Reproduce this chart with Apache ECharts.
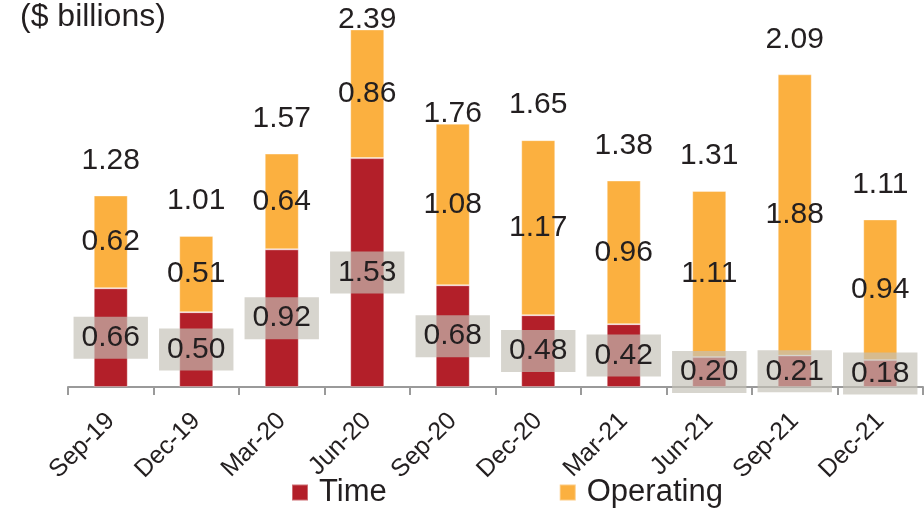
<!DOCTYPE html>
<html>
<head>
<meta charset="utf-8">
<script src="https://cdn.jsdelivr.net/npm/echarts@6/dist/echarts.min.js"></script>
<style>
  html, body { margin: 0; padding: 0; background: #fff; }
  #chart { width: 924px; height: 510px; }
</style>
</head>
<body>
<div id="chart"></div>
<script>
// Quarterly deposits, $ billions
const quarters = ['Sep-19', 'Dec-19', 'Mar-20', 'Jun-20', 'Sep-20', 'Dec-20', 'Mar-21', 'Jun-21', 'Sep-21', 'Dec-21'];
const timeValues = [0.66, 0.50, 0.92, 1.53, 0.68, 0.48, 0.42, 0.20, 0.21, 0.18];
const operatingValues = [0.62, 0.51, 0.64, 0.86, 1.08, 1.17, 0.96, 1.11, 1.88, 0.94];
const totals = [1.28, 1.01, 1.57, 2.39, 1.76, 1.65, 1.38, 1.31, 2.09, 1.11];
// label gap above each stack (tall neighbours get a tighter gap)
const totalGaps = [19, 19, 19, -6, -6, 19, 19, 19, 19, 19];

const FONT = 'Liberation Sans, Arial, sans-serif';
const INK = '#231F20';
const RED = '#B31F29';
const ORANGE = '#FBB040';

const chart = echarts.init(document.getElementById('chart'), null, { renderer: 'canvas' });

chart.setOption({
  animation: false,
  backgroundColor: '#ffffff',
  textStyle: { fontFamily: FONT, color: INK },
  title: {
    text: '($ billions)',
    left: 20,
    top: 1,
    padding: 0,
    textStyle: { fontFamily: FONT, fontSize: 32, fontWeight: 'normal', color: INK }
  },
  legend: {
    data: ['Time', 'Operating'],
    left: 291,
    top: 477,
    padding: 0,
    itemWidth: 16,
    itemHeight: 16,
    itemGap: 172,
    icon: 'rect',
    textStyle: { fontFamily: FONT, fontSize: 31, color: INK, padding: [0, 0, 0, 6] }
  },
  grid: { left: 68, right: 1, top: 13, bottom: 123, containLabel: false },
  xAxis: {
    type: 'category',
    data: quarters,
    boundaryGap: true,
    axisLine: { show: true, lineStyle: { color: '#9A9A9A', width: 2 } },
    axisTick: { show: true, length: 8, alignWithLabel: false, lineStyle: { color: '#9A9A9A', width: 2 } },
    axisLabel: {
      rotate: 45,
      margin: 30,
      fontFamily: FONT,
      fontSize: 25,
      color: INK,
      interval: 0
    }
  },
  yAxis: {
    type: 'value',
    min: 0,
    max: 2.5,
    show: false,
    splitLine: { show: false }
  },
  series: [
    {
      name: 'Time',
      type: 'bar',
      stack: 'deposits',
      barWidth: 34,
      data: timeValues,
      itemStyle: { color: RED, borderColor: 'rgba(255,255,255,0.35)', borderWidth: 1 },
      label: {
        show: true,
        position: 'inside',
        fontFamily: FONT,
        fontSize: 30,
        lineHeight: 32,
        color: INK,
        padding: [5, 8],
        backgroundColor: 'rgba(195,192,182,0.67)',
        formatter: p => p.value.toFixed(2)
      },
      z: 2
    },
    {
      name: 'Operating',
      type: 'bar',
      stack: 'deposits',
      barWidth: 34,
      data: operatingValues,
      itemStyle: { color: ORANGE, borderColor: 'rgba(255,255,255,0.35)', borderWidth: 1 },
      label: {
        show: true,
        position: 'inside',
        fontFamily: FONT,
        fontSize: 30,
        lineHeight: 32,
        color: INK,
        formatter: p => p.value.toFixed(2)
      },
      z: 2
    },
    {
      name: 'Total',
      type: 'bar',
      stack: 'deposits',
      barWidth: 34,
      data: totals.map((t, i) => ({
        value: 0,
        label: { distance: totalGaps[i] }
      })),
      itemStyle: { color: 'rgba(0,0,0,0)' },
      label: {
        show: true,
        position: 'top',
        fontFamily: FONT,
        fontSize: 30,
        lineHeight: 32,
        color: INK,
        formatter: p => totals[p.dataIndex].toFixed(2)
      },
      silent: true,
      z: 3
    }
  ]
});
</script>
</body>
</html>
